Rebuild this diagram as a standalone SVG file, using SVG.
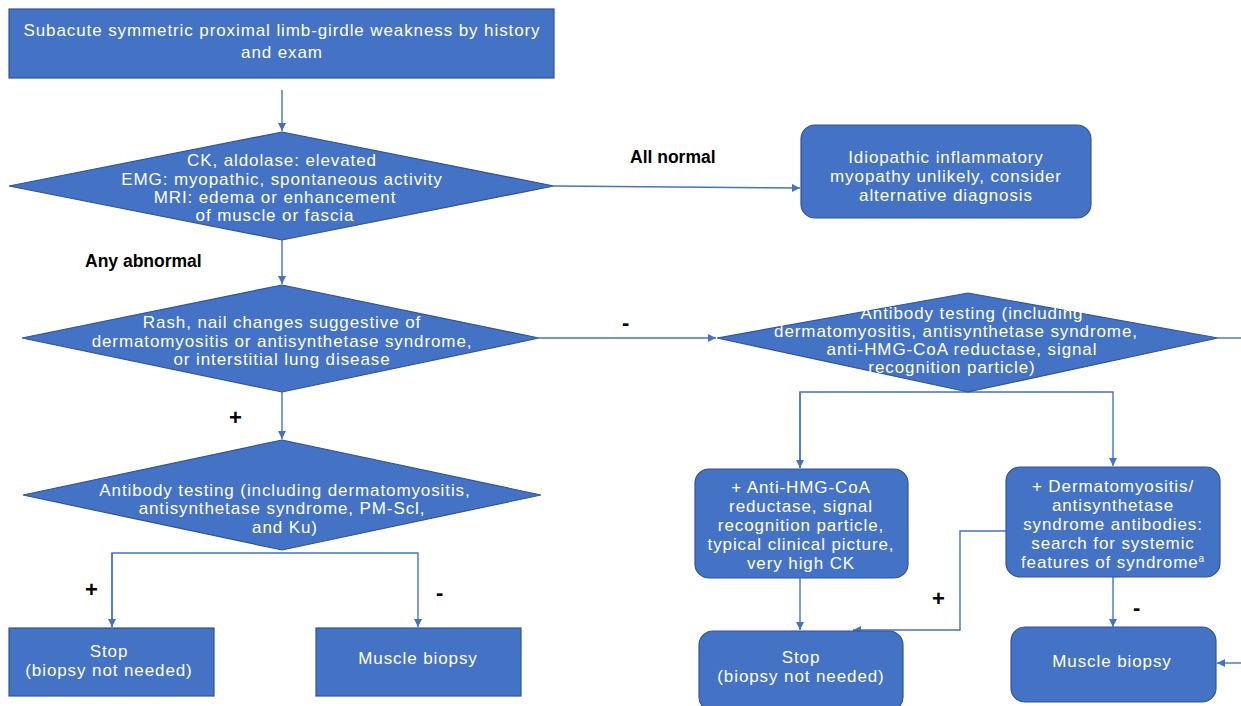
<svg xmlns="http://www.w3.org/2000/svg" width="1241" height="706" viewBox="0 0 1241 706">
<style>
.n{fill:#4472C4;stroke:#2F5597;stroke-width:1.2}
.t{fill:#fff;font-family:"Liberation Sans",Arial,sans-serif;font-size:17px;letter-spacing:0.9px;text-anchor:middle}
.l{fill:#000;font-family:"Liberation Sans",Arial,sans-serif;font-size:17.5px}
.b{font-weight:bold}
.p{font-size:22px}
.c{fill:none;stroke:#4472C4;stroke-width:1.4}
</style>
<defs>
<marker id="a" viewBox="0 0 10 10" refX="10" refY="5" markerWidth="8" markerHeight="8" orient="auto" markerUnits="userSpaceOnUse">
<path d="M0,0L10,5L0,10z" fill="#4472C4"/>
</marker>
</defs>
<rect width="1241" height="706" fill="#fff"/>
<g id="connectors">
<path class="c" d="M282,90V131" marker-end="url(#a)"/>
<path class="c" d="M554,186L800,188" marker-end="url(#a)"/>
<path class="c" d="M282,240V284" marker-end="url(#a)"/>
<path class="c" d="M539,338H716" marker-end="url(#a)"/>
<path class="c" d="M282,392V439" marker-end="url(#a)"/>
<path class="c" d="M1218,338H1241"/>
<path class="c" d="M800,468V392H1113V466" marker-end="url(#a)"/>
<path class="c" d="M800,392V468" marker-end="url(#a)"/>
<path class="c" d="M800,578V630" marker-end="url(#a)"/>
<path class="c" d="M1006,531H960V630H853" marker-end="url(#a)"/>
<path class="c" d="M1113,577V627" marker-end="url(#a)"/>
<path class="c" d="M1241,663H1217" marker-end="url(#a)"/>
<path class="c" d="M112,627V553H418V627" marker-end="url(#a)"/>
<path class="c" d="M112,553V627" marker-end="url(#a)"/>
</g>
<g id="labels">
<text class="l b" x="630" y="163">All normal</text>
<text class="l b" x="85" y="267">Any abnormal</text>
<text class="l b p" x="622" y="330">-</text>
<text class="l b p" x="229" y="425">+</text>
<text class="l b p" x="85" y="597">+</text>
<text class="l b p" x="436" y="600">-</text>
<text class="l b p" x="932" y="606">+</text>
<text class="l b p" x="1133" y="615">-</text>
</g>
<g id="start">
<rect class="n" x="9" y="9" width="545" height="69"/>
<text class="t" x="282" y="36">Subacute symmetric proximal limb-girdle weakness by history</text>
<text class="t" x="282" y="58">and exam</text>
</g>
<g id="labs">
<polygon class="n" points="282,132 554,186 282,240 9,186"/>
<text class="t" x="282" y="166">CK, aldolase: elevated</text>
<text class="t" x="282" y="185">EMG: myopathic, spontaneous activity</text>
<text class="t" x="275" y="203">MRI: edema or enhancement</text>
<text class="t" x="275" y="221">of muscle or fascia</text>
</g>
<g id="unlikely">
<rect class="n" x="801" y="125" width="290" height="93" rx="14"/>
<text class="t" x="946" y="163">Idiopathic inflammatory</text>
<text class="t" x="946" y="182">myopathy unlikely, consider</text>
<text class="t" x="946" y="201">alternative diagnosis</text>
</g>
<g id="rash">
<polygon class="n" points="282,285 539,338 282,392 22,338"/>
<text class="t" x="282" y="328">Rash, nail changes suggestive of</text>
<text class="t" x="282" y="347">dermatomyositis or antisynthetase syndrome,</text>
<text class="t" x="282" y="365">or interstitial lung disease</text>
</g>
<g id="ab-right">
<polygon class="n" points="968,293 1218,338 968,392 717,338"/>
<text class="t" x="972" y="319">Antibody testing (including</text>
<text class="t" x="956" y="337">dermatomyositis, antisynthetase syndrome,</text>
<text class="t" x="962" y="355">anti-HMG-CoA reductase, signal</text>
<text class="t" x="952" y="373">recognition particle)</text>
</g>
<g id="ab-left">
<polygon class="n" points="282,440 541,495 282,550 23,495"/>
<text class="t" x="285" y="496">Antibody testing (including dermatomyositis,</text>
<text class="t" x="282" y="514">antisynthetase syndrome, PM-Scl,</text>
<text class="t" x="285" y="533">and Ku)</text>
</g>
<g id="hmg">
<rect class="n" x="695" y="469" width="213" height="109" rx="14"/>
<text class="t" x="801" y="493">+ Anti-HMG-CoA</text>
<text class="t" x="801" y="512">reductase, signal</text>
<text class="t" x="801" y="531">recognition particle,</text>
<text class="t" x="801" y="550">typical clinical picture,</text>
<text class="t" x="801" y="569">very high CK</text>
</g>
<g id="dm">
<rect class="n" x="1006" y="467" width="214" height="110" rx="14"/>
<text class="t" x="1113" y="492">+ Dermatomyositis/</text>
<text class="t" x="1113" y="511">antisynthetase</text>
<text class="t" x="1113" y="530">syndrome antibodies:</text>
<text class="t" x="1113" y="549">search for systemic</text>
<text class="t" x="1113" y="568">features of syndrome<tspan font-size="10" dy="-6">a</tspan></text>
</g>
<g id="stop-right">
<rect class="n" x="699" y="631" width="204" height="80" rx="14"/>
<text class="t" x="801" y="663">Stop</text>
<text class="t" x="801" y="682">(biopsy not needed)</text>
</g>
<g id="biopsy-right">
<rect class="n" x="1011" y="627" width="205" height="75" rx="14"/>
<text class="t" x="1112" y="667">Muscle biopsy</text>
</g>
<g id="stop-left">
<rect class="n" x="9" y="628" width="205" height="68"/>
<text class="t" x="109" y="657">Stop</text>
<text class="t" x="109" y="676">(biopsy not needed)</text>
</g>
<g id="biopsy-left">
<rect class="n" x="316" y="628" width="205" height="68"/>
<text class="t" x="418" y="664">Muscle biopsy</text>
</g>
</svg>
